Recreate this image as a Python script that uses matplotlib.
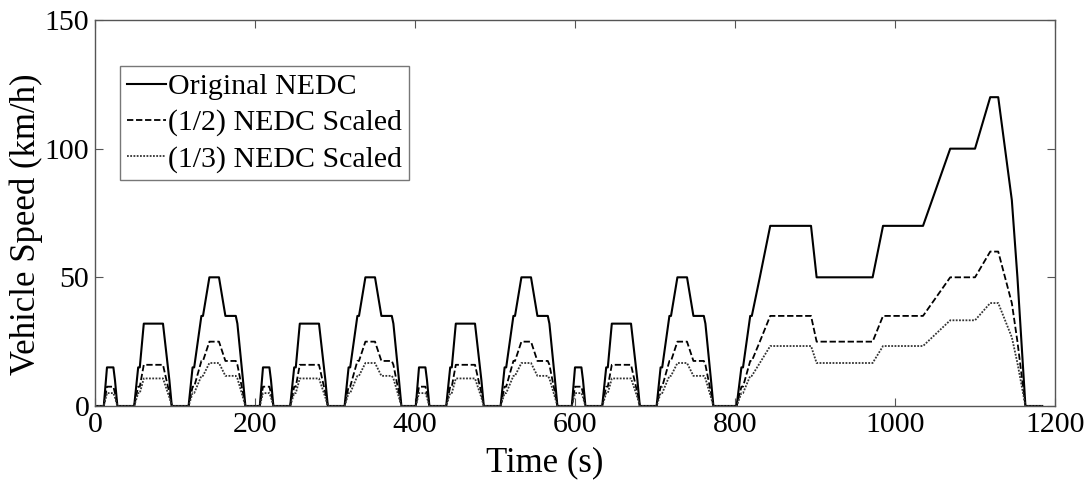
# NEDC speed profile: original and scaled versions
import numpy as np
import matplotlib.pyplot as plt

plt.rcParams['font.family'] = ['Liberation Serif', 'DejaVu Serif']

# one ECE-15 urban segment (0..195 s), repeated 4 times
ece_t = [0, 11, 15, 23, 25, 28, 49, 54, 56, 61, 85, 93, 96, 117, 122, 124,
         133, 135, 143, 155, 163, 176, 178, 185, 188, 195]
ece_full = [0, 0, 15, 15, 10, 0, 0, 15, 15, 32, 32, 10, 0, 0, 15, 15,
            35, 35, 50, 50, 35, 35, 32, 10, 0, 0]
ece_half = [0, 0, 7.5, 7.5, 5, 0, 0, 7.5, 7.5, 16, 16, 5, 0, 0, 7.5, 7.5,
            17.5, 17.5, 25, 25, 17.5, 17.5, 16, 5, 0, 0]
ece_third = [0, 0, 5, 5, 3.3, 0, 0, 5, 5, 10.7, 10.7, 3.3, 0, 0, 5, 5,
             11.7, 11.7, 16.7, 16.7, 11.7, 11.7, 10.7, 3.3, 0, 0]
ece_starts = [0, 195, 390, 585]

# extra-urban part (EUDC)
eudc_t = [780, 802, 808, 810, 819, 821, 831, 844, 895, 902, 972, 985,
          1035, 1069, 1100, 1119, 1129, 1146, 1153, 1163, 1184]
eudc_full = [0, 0, 15, 15, 35, 35, 50, 70, 70, 50, 50, 70,
             70, 100, 100, 120, 120, 80, 50, 0, 0]
eudc_half = [0, 0, 7.5, 7.5, 17.5, 17.5, 25, 35, 35, 25, 25, 35,
             35, 50, 50, 60, 60, 40, 25, 0, 0]
eudc_third = [0, 0, 5, 5, 11.7, 11.7, 16.7, 23.3, 23.3, 16.7, 16.7, 23.3,
              23.3, 33.3, 33.3, 40, 40, 26.7, 16.7, 0, 0]


def build(ece_v, eudc_v):
    t = []
    v = []
    for s in ece_starts:
        t += [s + x for x in ece_t]
        v += ece_v
    t += eudc_t
    v += eudc_v
    return np.array(t), np.array(v)


t1, v1 = build(ece_full, eudc_full)
t2, v2 = build(ece_half, eudc_half)
t3, v3 = build(ece_third, eudc_third)

fig = plt.figure(figsize=(10.88, 4.84), dpi=100)
ax = fig.add_axes([0.0873, 0.1612, 0.8824, 0.7975])

ax.plot(t1, v1, '-', color='black', lw=1.5, label='Original NEDC')
ax.plot(t2, v2, '--', color='black', lw=1.3, dashes=(3.5, 1.5), label='(1/2) NEDC Scaled')
ax.plot(t3, v3, ':', color='#333333', lw=1.3, dashes=(1, 0.8), label='(1/3) NEDC Scaled')

ax.set_xlim(0, 1200)
ax.set_ylim(0, 150)
ax.set_xticks([0, 200, 400, 600, 800, 1000, 1200])
ax.set_yticks([0, 50, 100, 150])

for sp in ax.spines.values():
    sp.set_color('#555555')
    sp.set_linewidth(1.0)
ax.tick_params(direction='in', length=6, width=0.8, color='#555555',
               top=True, right=True, labelsize=21.5, pad=4)

ax.set_xlabel('Time (s)', fontsize=25)
ax.xaxis.set_label_coords(0.468, -0.105)
ax.set_ylabel('Vehicle Speed (km/h)', fontsize=25)
ax.yaxis.set_label_coords(-0.054, 0.47)

leg = ax.legend(loc='upper left', bbox_to_anchor=(0.026, 0.881), borderaxespad=0,
                fontsize=21.5, frameon=True, fancybox=False, handlelength=1.3,
                handletextpad=0.06, labelspacing=0.3, borderpad=0.25)
leg.get_frame().set_edgecolor('#555555')
leg.get_frame().set_linewidth(1.0)

fig.savefig('out.png', dpi=100)
